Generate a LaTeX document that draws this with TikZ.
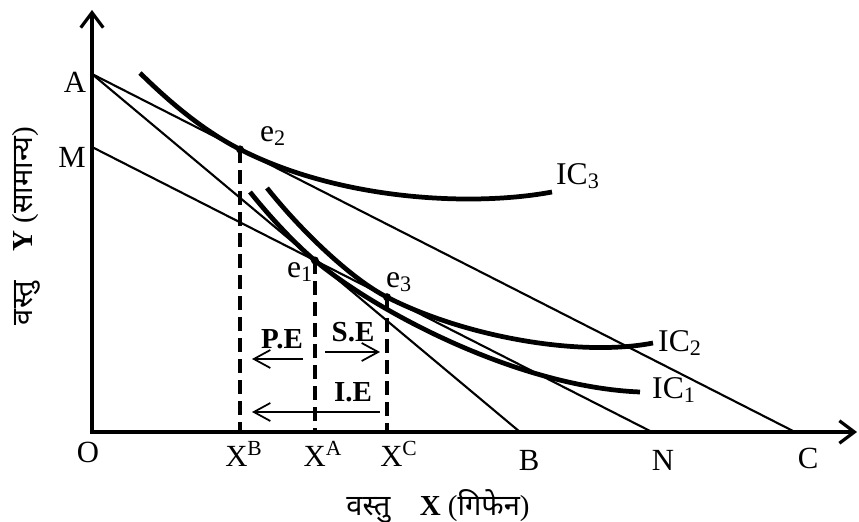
\documentclass[tikz,border=0pt]{standalone}
\usepackage{fontspec}
\setmainfont{Liberation Serif}
\newfontfamily\hindi[Script=Devanagari]{Noto Sans}
\usetikzlibrary{arrows.meta}
\tikzset{
  axis/.style={line width=1.8pt, line join=miter},
  budget/.style={line width=1.2pt},
  indiff/.style={line width=2.7pt},
  drop/.style={line width=1.9pt, dash pattern=on 2.7mm off 1.5mm},
  effect/.style={line width=1pt, -{Straight Barb[length=3.3mm,width=3.6mm]}},
  lbl/.style={font=\fontsize{17.5}{19}\selectfont, inner sep=0pt},
  big/.style={font=\fontsize{18}{20}\selectfont, inner sep=0pt},
  tag/.style={font=\fontsize{16.5}{18}\selectfont\bfseries, inner sep=0pt},
  title/.style={font=\fontsize{16.5}{18}\selectfont, inner sep=0pt},
}

\begin{document}
\begin{tikzpicture}[x=1cm, y=1cm]
\useasboundingbox (-1.84,-1.78) rectangle (15.34,8.64);
% ---------------- axes and budget lines ----------------
\coordinate (O) at (0,0);
\coordinate (A) at (0,7.16);
\coordinate (M) at (0,5.70);
\coordinate (B) at (8.56,0);
\coordinate (N) at (11.20,0);
\coordinate (C) at (14.06,0);
\coordinate (ytip) at (0,8.44);
\coordinate (xtip) at (15.30,0);
\draw[axis, {Straight Barb[length=3mm,width=4.5mm]}-{Straight Barb[length=3mm,width=4.5mm]}]
    (ytip) -- (O) -- (xtip);
\draw[budget] (A) -- (C);
\draw[budget] (A) -- (B);
\draw[budget] (M) -- (N);
% ---------------- indifference curves ----------------
\coordinate (e1) at (4.458,3.431);
\coordinate (e2) at (2.96,5.653);
\coordinate (e3) at (5.90,2.697);
\draw[indiff] (0.96,7.18) .. controls (1.6,6.55) and (2.26,6.01) .. (e2)
    .. controls (4.96,4.635) and (7.6,4.5) .. (9.2,4.8);
\draw[indiff] (3.5,4.88) .. controls (4.2,4.0) and (5.2,3.053) .. (e3)
    .. controls (7.5,1.883) and (9.8,1.5) .. (11.22,1.78);
\draw[indiff] (3.16,4.80) .. controls (3.56,4.3) and (4.058,3.766) .. (e1)
    .. controls (5.658,2.427) and (8.5,0.9) .. (10.96,0.80);
\foreach \p in {e1,e2,e3}{\fill (\p) circle (0.08);}
% drop lines to the X axis
\coordinate (xb) at (e2 |- O);
\coordinate (xa) at (e1 |- O);
\coordinate (xc) at (e3 |- O);
\draw[drop] (e2) -- (xb);
\draw[drop] (e1) -- (xa);
\draw[drop] (e3) -- (xc);
% price, substitution and income effects
\coordinate (pe0) at (4.22,1.46);
\coordinate (pe1) at (3.20,1.46);
\coordinate (se0) at (4.66,1.60);
\coordinate (se1) at (5.76,1.60);
\coordinate (ie0) at (5.76,0.40);
\coordinate (ie1) at (3.20,0.40);
\draw[effect] (pe0) -- (pe1);
\draw[effect] (se0) -- (se1);
\draw[effect] (ie0) -- (ie1);
\node[tag] (pe) at (3.80,1.86) {P.E};
\node[tag] (se) at (5.22,2.00) {S.E};
\node[tag] (ie) at (5.22,0.80) {I.E};
% ---------------- labels ----------------
\node[lbl] (lA) at (-0.34,7.00) {A};
\node[lbl] (lM) at (-0.40,5.50) {M};
\node[lbl] (lO) at (-0.08,-0.40) {O};
\node[lbl] (lB) at (8.74,-0.56) {B};
\node[lbl] (lN) at (11.42,-0.56) {N};
\node[lbl] (lC) at (14.32,-0.52) {C};
\node[lbl] (lxb) at (3.04,-0.44) {X\textsuperscript{B}};
\node[lbl] (lxa) at (4.62,-0.44) {X\textsuperscript{A}};
\node[lbl] (lxc) at (6.14,-0.44) {X\textsuperscript{C}};
\node[big] (le1) at (4.16,3.20) {e\textsubscript{1}};
\node[big] (le2) at (3.62,5.92) {e\textsubscript{2}};
\node[big] (le3) at (6.14,3.00) {e\textsubscript{3}};
\node[big] (lic3) at (9.72,5.12) {IC\textsubscript{3}};
\node[big] (lic2) at (11.76,1.78) {IC\textsubscript{2}};
\node[big] (lic1) at (11.64,0.84) {IC\textsubscript{1}};
\node[title, rotate=90] (ylab) at (-1.32,4.12)
  {{\hindi वस्तु}\quad\textbf{Y} ({\hindi सामान्य})};
\node[title] (xlab) at (6.92,-1.48)
  {{\hindi वस्तु}\quad\textbf{X} ({\hindi गिफेन})};
\end{tikzpicture}
\end{document}
